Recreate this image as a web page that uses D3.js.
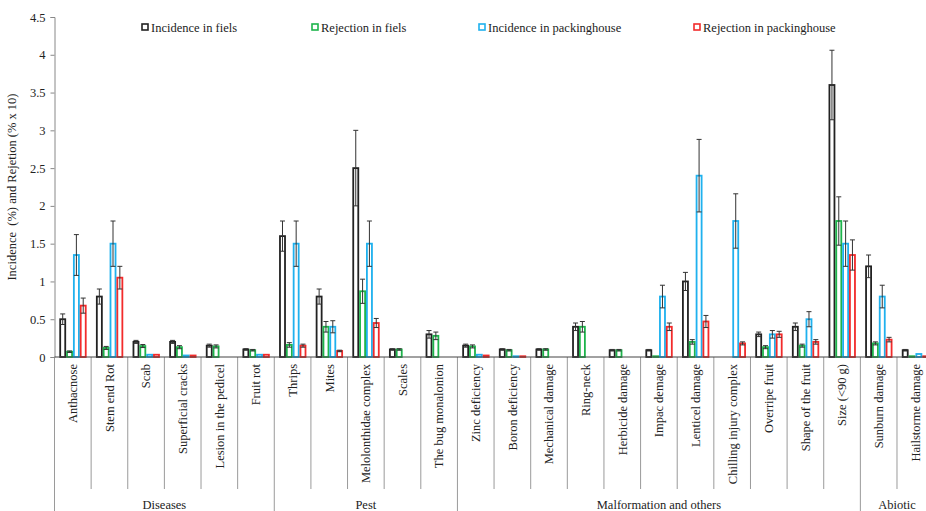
<!DOCTYPE html>
<meta charset="utf-8">
<style>
  body { margin: 0; background: #fff; }
  text { font-family: "Liberation Serif", "Times New Roman", serif; fill: #222; }
</style>
<body>
<svg width="926" height="511"></svg>
<script src="https://d3js.org/d3.v7.min.js"></script>
<script>
// categories and their groups
var categories = ["Anthacnose", "Stem end Rot", "Scab", "Superficial cracks", "Lesion in the pedicel", "Fruit rot",
  "Thrips", "Mites", "Melolonthidae complex", "Scales", "The bug monalonion",
  "Zinc deficiency", "Boron deficiency", "Mechanical damage", "Ring-neck", "Herbicide damage", "Impac demage",
  "Lenticel damage", "Chilling injury complex", "Overripe fruit", "Shape of the fruit", "Size (<90 g)",
  "Sunburn damage", "Hailstorme damage"];
var groups = [
  {name: "Diseases", n: 6},
  {name: "Pest", n: 5},
  {name: "Malformation and others", n: 11},
  {name: "Abiotic", n: 2}
];
var seriesNames = ["Incidence in fiels", "Rejection in fiels", "Incidence in packinghouse", "Rejection in packinghouse"];
var seriesColors = ["#222222", "#1db44b", "#1fb1ee", "#f22b2b"];

// values (mean) and error bar half-widths, one array per series
var incFields = [0.5, 0.8, 0.2, 0.2, 0.15, 0.1, 1.6, 0.8, 2.5, 0.1, 0.3, 0.15, 0.1, 0.1, 0.4, 0.09, 0.09, 1.0, 0, 0.3, 0.4, 3.6, 1.2, 0.09];
var incFieldsErr = [0.07, 0.1, 0.02, 0.02, 0.02, 0.01, 0.2, 0.1, 0.5, 0.01, 0.05, 0.02, 0.01, 0.01, 0.05, 0.01, 0.01, 0.12, 0, 0.03, 0.05, 0.46, 0.15, 0.01];
var rejFields = [0.07, 0.12, 0.145, 0.13, 0.14, 0.09, 0.16, 0.4, 0.87, 0.1, 0.28, 0.14, 0.09, 0.1, 0.4, 0.09, 0.01, 0.2, 0, 0.13, 0.15, 1.8, 0.18, 0.01];
var rejFieldsErr = [0.01, 0.02, 0.02, 0.02, 0.02, 0.01, 0.03, 0.07, 0.16, 0.01, 0.05, 0.02, 0.01, 0.01, 0.07, 0.01, 0, 0.03, 0, 0.02, 0.02, 0.32, 0.02, 0];
var incPack = [1.35, 1.5, 0.03, 0.02, 0, 0.03, 1.5, 0.4, 1.5, 0, 0, 0.03, 0.01, 0, 0, 0, 0.8, 2.4, 1.8, 0.3, 0.5, 1.5, 0.8, 0.04];
var incPackErr = [0.27, 0.3, 0, 0, 0, 0, 0.3, 0.08, 0.3, 0, 0, 0, 0, 0, 0, 0, 0.15, 0.48, 0.36, 0.05, 0.1, 0.3, 0.15, 0];
var rejPack = [0.68, 1.05, 0.03, 0.02, 0, 0.03, 0.15, 0.08, 0.45, 0, 0, 0.02, 0.01, 0, 0, 0, 0.4, 0.47, 0.18, 0.3, 0.2, 1.35, 0.23, 0.01];
var rejPackErr = [0.1, 0.15, 0, 0, 0, 0, 0.02, 0.01, 0.06, 0, 0, 0, 0, 0, 0, 0, 0.05, 0.08, 0.02, 0.04, 0.03, 0.2, 0.03, 0];

var yTicks = [0, 0.5, 1, 1.5, 2, 2.5, 3, 3.5, 4, 4.5];

var values = [incFields, rejFields, incPack, rejPack];
var errors = [incFieldsErr, rejFieldsErr, incPackErr, rejPackErr];

var svg = d3.select("svg");
var x0 = 54.5, step = 36.63;
var x = d3.scaleBand()
  .domain(categories)
  .range([x0, x0 + step * categories.length]);
var xs = d3.scaleBand()
  .domain(d3.range(4))
  .range([4.8, step - 4.5]);
var y = d3.scaleLinear()
  .domain([0, 4.5])
  .range([357, 17]);

// y axis
var yAxis = svg.append("g")
  .attr("transform", "translate(" + x0 + ",0)")
  .call(d3.axisLeft(y).tickValues(yTicks).tickSize(4).tickPadding(5).tickFormat(d3.format("")));
yAxis.selectAll("text").style("font-size", "12.5px").attr("fill", "#222");
yAxis.selectAll("line").attr("stroke", "#888");
yAxis.select(".domain").attr("stroke", "#888");

svg.append("text")
  .attr("transform", "translate(16," + y(2.25) + ") rotate(-90)")
  .attr("text-anchor", "middle")
  .style("font-size", "12.5px")
  .style("white-space", "pre")
  .text("Incidence  (%) and Rejetion (% x 10)");

// dividers below the axis
var boundaries = [];
var acc = 0;
groups.forEach(function (g) { acc += g.n; boundaries.push(acc); });
d3.range(0, categories.length).forEach(function (i) {
  var long = i === 0 || boundaries.indexOf(i) >= 0;
  svg.append("line")
    .attr("x1", x0 + step * i).attr("x2", x0 + step * i)
    .attr("y1", 357).attr("y2", long ? 511 : 489)
    .attr("stroke", "#9a9a9a").attr("stroke-width", 1);
});

// category labels
svg.append("g").selectAll("text")
  .data(categories)
  .join("text")
    .attr("transform", function (d) { return "translate(" + (x(d) + step / 2) + ",364) rotate(-90)"; })
    .attr("text-anchor", "end")
    .attr("dy", "0.35em")
    .style("font-size", "12.5px")
    .text(function (d) { return d; });

// group labels
var start = 0;
groups.forEach(function (g) {
  svg.append("text")
    .attr("x", x0 + step * (start + g.n / 2))
    .attr("y", 509)
    .attr("text-anchor", "middle")
    .style("font-size", "12.5px")
    .text(g.name);
  start += g.n;
});

// bars
var rows = [];
categories.forEach(function (c, i) {
  values.forEach(function (s, k) {
    rows.push({cat: c, k: k, v: s[i], e: errors[k][i]});
  });
});

var bars = svg.append("g");
bars.selectAll("rect")
  .data(rows.filter(function (d) { return d.v > 0; }))
  .join("rect")
    .attr("x", function (d) { return x(d.cat) + xs(d.k) + 0.9; })
    .attr("y", function (d) { return y(d.v); })
    .attr("width", xs.bandwidth() - 1.8)
    .attr("height", function (d) { return y(0) - y(d.v); })
    .attr("fill", "#fff")
    .attr("stroke", function (d) { return seriesColors[d.k]; })
    .attr("stroke-width", 1.8);

// x axis line
svg.append("line")
  .attr("x1", x0).attr("x2", 926)
  .attr("y1", y(0)).attr("y2", y(0))
  .attr("stroke", "#444").attr("stroke-width", 1);

// error bars
var eb = svg.append("g").attr("stroke", "#333").attr("stroke-width", 1);
rows.filter(function (d) { return d.e > 0; }).forEach(function (d) {
  var cx = x(d.cat) + xs(d.k) + xs.bandwidth() / 2;
  var y1 = y(d.v + d.e), y2 = y(Math.max(0, d.v - d.e));
  eb.append("line").attr("x1", cx).attr("x2", cx).attr("y1", y1).attr("y2", y2);
  eb.append("line").attr("x1", cx - 2.5).attr("x2", cx + 2.5).attr("y1", y1).attr("y2", y1);
  eb.append("line").attr("x1", cx - 2.5).attr("x2", cx + 2.5).attr("y1", y2).attr("y2", y2);
});

// legend
var legendX = [142, 312, 479, 694];
var legend = svg.append("g");
seriesNames.forEach(function (name, k) {
  legend.append("rect")
    .attr("x", legendX[k]).attr("y", 24)
    .attr("width", 6).attr("height", 6)
    .attr("fill", "#fff")
    .attr("stroke", seriesColors[k])
    .attr("stroke-width", 1.6);
  legend.append("text")
    .attr("x", legendX[k] + 9).attr("y", 32)
    .style("font-size", "12.5px")
    .text(name);
});
</script>
</body>
